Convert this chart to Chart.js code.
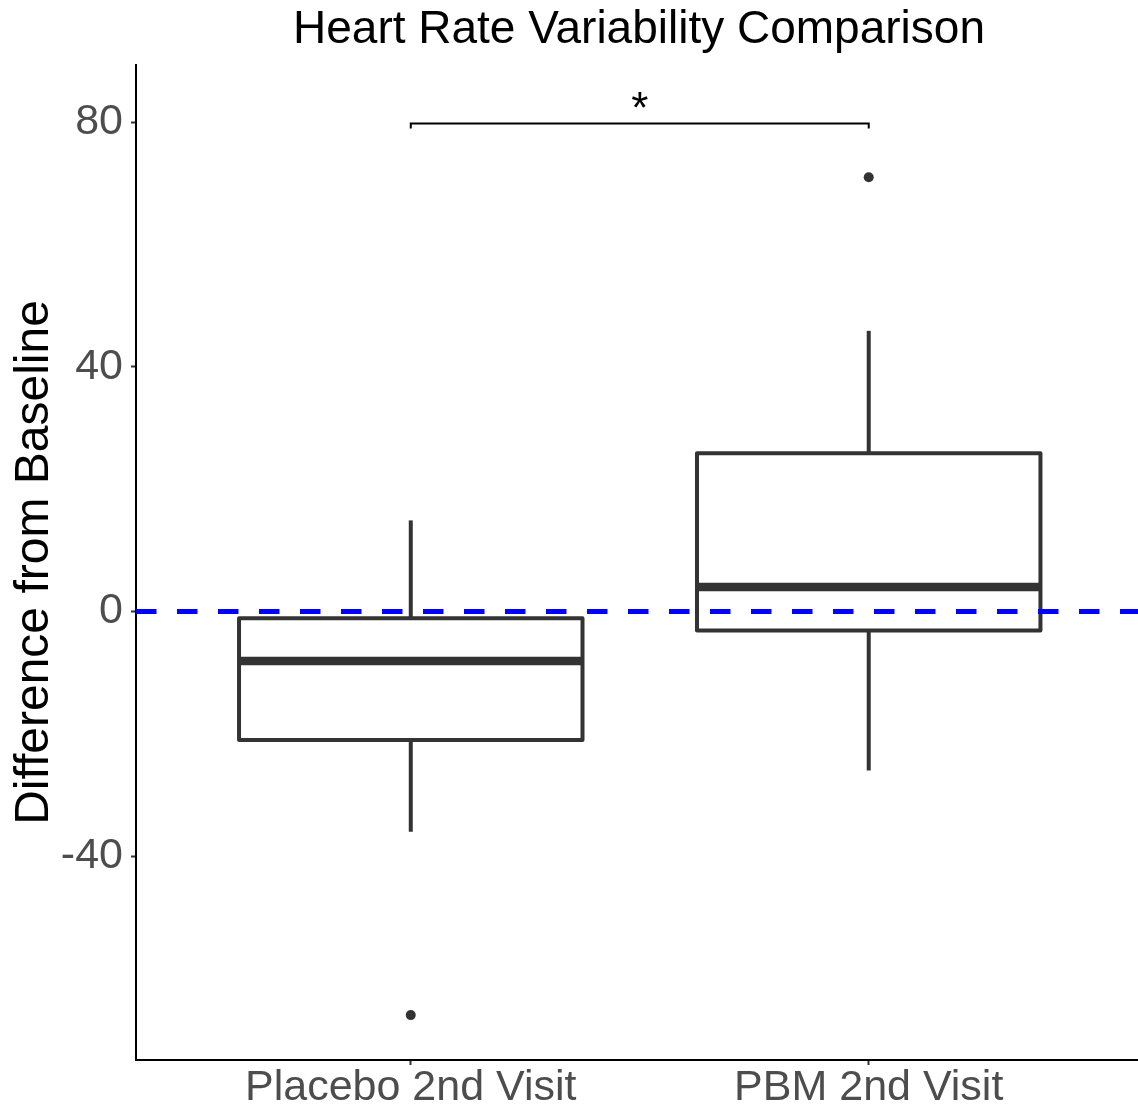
<!DOCTYPE html>
<html>
<head>
<meta charset="utf-8">
<script src="https://cdn.jsdelivr.net/npm/chart.js@4"></script>
<style>
html,body{margin:0;padding:0;background:#ffffff;overflow:hidden;}
canvas{display:block;}
</style>
</head>
<body>
<canvas id="c" width="1138" height="1111" style="width:1138px;height:1111px;"></canvas>
<script>
// ---- data ----
const categories = ['Placebo 2nd Visit', 'PBM 2nd Visit'];
const whiskerLow = [-36.0, -26.0];
const q1 = [-21.0, -3.1];
const medians = [-8.1, 4.0];
const q3 = [-1.1, 25.9];
const whiskerHigh = [14.9, 45.9];
const outliers = [[-66.0], [71.0]];
const yTicks = [-40, 0, 40, 80];
const referenceValue = 0;
const sigGroups = [1, 2];
const sigBracketY = 79.8;
const sigTipY = 79.0;
const sigLabel = '*';
const chartTitle = 'Heart Rate Variability Comparison';
const yAxisTitle = 'Difference from Baseline';

// ---- style ----
const FONT = "'Liberation Sans', Arial, Helvetica, sans-serif";
const BOX_COLOR = '#333333';
const HALF = 0.375;
const X_MIN = 0.4, X_MAX = 2.588;
const Y_MIN = -73.34, Y_MAX = 89.37;

const datasets = [];

// reference dashed line (drawn on top)
datasets.push({
  label: 'ref',
  data: [{x: X_MIN, y: referenceValue}, {x: X_MAX, y: referenceValue}],
  showLine: true, borderColor: '#0000FF', borderWidth: 5, borderDash: [20.5, 20.5],
  pointRadius: 0, order: 0
});

categories.forEach((cat, i) => {
  const c = i + 1;
  // whiskers
  datasets.push({
    data: [{x: c, y: q3[i]}, {x: c, y: whiskerHigh[i]}],
    showLine: true, borderColor: BOX_COLOR, borderWidth: 4, pointRadius: 0, order: 5
  });
  datasets.push({
    data: [{x: c, y: q1[i]}, {x: c, y: whiskerLow[i]}],
    showLine: true, borderColor: BOX_COLOR, borderWidth: 4, pointRadius: 0, order: 5
  });
  // box
  datasets.push({
    data: [
      {x: c - HALF, y: q1[i]}, {x: c + HALF, y: q1[i]},
      {x: c + HALF, y: q3[i]}, {x: c - HALF, y: q3[i]},
      {x: c - HALF, y: q1[i]}
    ],
    showLine: true, borderColor: BOX_COLOR, borderWidth: 4, borderJoinStyle: 'round',
    fill: false, pointRadius: 0, order: 3
  });
  // median
  datasets.push({
    data: [{x: c - HALF, y: medians[i]}, {x: c + HALF, y: medians[i]}],
    showLine: true, borderColor: BOX_COLOR, borderWidth: 8.5, pointRadius: 0, order: 2
  });
  // outliers
  datasets.push({
    data: outliers[i].map(v => ({x: c, y: v})),
    showLine: false, pointRadius: 5, pointBackgroundColor: BOX_COLOR, pointBorderWidth: 0,
    order: 1
  });
});

// significance bracket
datasets.push({
  data: [
    {x: sigGroups[0], y: sigTipY}, {x: sigGroups[0], y: sigBracketY},
    {x: sigGroups[1], y: sigBracketY}, {x: sigGroups[1], y: sigTipY}
  ],
  showLine: true, borderColor: '#000000', borderWidth: 2, borderJoinStyle: 'miter',
  pointRadius: 0, order: 1
});

const annot = {
  id: 'annot',
  afterDatasetsDraw(chart) {
    const ctx = chart.ctx;
    const xs = chart.scales.x, ys = chart.scales.y;
    ctx.save();
    ctx.fillStyle = '#000000';
    ctx.font = '44px ' + FONT;
    ctx.textAlign = 'center';
    ctx.textBaseline = 'alphabetic';
    ctx.fillText(sigLabel, xs.getPixelForValue((sigGroups[0] + sigGroups[1]) / 2), ys.getPixelForValue(sigBracketY) - 1);
    ctx.restore();
  },
  afterDraw(chart) {
    const ctx = chart.ctx;
    const a = chart.chartArea;
    ctx.save();
    ctx.fillStyle = '#000000';
    ctx.font = '46px ' + FONT;
    ctx.textAlign = 'center';
    ctx.textBaseline = 'alphabetic';
    ctx.fillText(chartTitle, (a.left + a.right) / 2 + 2, 43);
    ctx.restore();
  }
};

new Chart(document.getElementById('c'), {
  type: 'scatter',
  data: {datasets},
  plugins: [annot],
  options: {
    responsive: false,
    maintainAspectRatio: false,
    animation: false,
    devicePixelRatio: 1,
    layout: {autoPadding: false, padding: {top: 65, left: 0, right: 0, bottom: 0}},
    plugins: {legend: {display: false}, tooltip: {enabled: false}, title: {display: false}},
    scales: {
      x: {
        type: 'linear', min: X_MIN, max: X_MAX,
        afterBuildTicks: s => { s.ticks = [1, 2].map(v => ({value: v})); },
        afterFit: s => { s.height = 51; s.paddingLeft = 0; s.paddingRight = 0; },
        ticks: {
          callback: v => categories[Math.round(v) - 1],
          font: {family: FONT, size: 43, lineHeight: 1},
          color: '#4D4D4D', padding: 2, autoSkip: false, maxRotation: 0
        },
        grid: {drawOnChartArea: false, drawTicks: true, tickLength: 5, tickColor: '#333333', tickWidth: 2},
        border: {display: true, color: '#000000', width: 2}
      },
      y: {
        type: 'linear', min: Y_MIN, max: Y_MAX,
        afterBuildTicks: s => { s.ticks = yTicks.map(v => ({value: v})); },
        afterFit: s => { s.width = 136; s.paddingTop = 0; s.paddingBottom = 0; },
        ticks: {
          font: {family: FONT, size: 43},
          color: '#4D4D4D', padding: 8
        },
        grid: {drawOnChartArea: false, drawTicks: true, tickLength: 5, tickColor: '#333333', tickWidth: 2},
        border: {display: true, color: '#000000', width: 2},
        title: {
          display: true, text: yAxisTitle, color: '#000000',
          font: {family: FONT, size: 48}, padding: {top: 6, bottom: 0}
        }
      }
    }
  }
});
</script>
</body>
</html>
